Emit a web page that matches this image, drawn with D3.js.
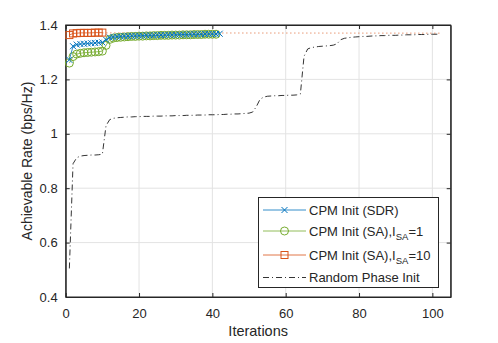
<!DOCTYPE html>
<html>
<head>
<meta charset="utf-8">
<script src="https://cdn.jsdelivr.net/npm/d3@7"></script>
<style>
  body { margin: 0; background: #fff; }
  svg text { font-family: "Liberation Sans", Arial, Helvetica, sans-serif; fill: #262626; }
</style>
</head>
<body>
<div id="chart"></div>
<script>
// rate per iteration for each initialisation
const sdrRate = [1.272, 1.322, 1.328, 1.330, 1.331, 1.332, 1.333, 1.334, 1.335, 1.336,
    1.346, 1.354, 1.356, 1.357, 1.358, 1.359, 1.359, 1.360, 1.360, 1.361,
    1.361, 1.362, 1.362, 1.362, 1.363, 1.363, 1.363, 1.364, 1.364, 1.364,
    1.365, 1.365, 1.365, 1.366, 1.366, 1.366, 1.366, 1.367, 1.367, 1.367,
    1.367, 1.368];

const sa1Rate = [1.260, 1.284, 1.293, 1.296, 1.298, 1.299, 1.300, 1.301, 1.302, 1.304,
    1.325, 1.347, 1.352, 1.354, 1.355, 1.356, 1.357, 1.358, 1.358, 1.359,
    1.359, 1.360, 1.360, 1.361, 1.361, 1.362, 1.362, 1.362, 1.363, 1.363,
    1.363, 1.364, 1.364, 1.364, 1.365, 1.365, 1.365, 1.366, 1.366, 1.366,
    1.366];

const sa10Rate = [1.363, 1.369, 1.370, 1.371, 1.371, 1.371, 1.371, 1.372, 1.372, 1.372];

// dotted continuation of the I_SA=10 curve
const sa10TailIter = [10, 102];
const sa10TailRate = [1.371, 1.370];

const randRate = [0.505, 0.890, 0.912, 0.918, 0.920, 0.921, 0.922, 0.922, 0.923, 0.925,
    1.030, 1.052, 1.057, 1.059, 1.060, 1.061, 1.062, 1.062, 1.063, 1.063,
    1.064, 1.064, 1.064, 1.065, 1.065, 1.065, 1.066, 1.066, 1.066, 1.067,
    1.067, 1.067, 1.068, 1.068, 1.068, 1.069, 1.069, 1.069, 1.070, 1.070,
    1.070, 1.071, 1.071, 1.072, 1.072, 1.073, 1.073, 1.074, 1.075, 1.076,
    1.080, 1.100, 1.127, 1.135, 1.138, 1.139, 1.140, 1.140, 1.141, 1.141,
    1.142, 1.142, 1.143, 1.146, 1.285, 1.312, 1.317, 1.319, 1.321, 1.322,
    1.323, 1.324, 1.326, 1.331, 1.346, 1.351, 1.353, 1.355, 1.356, 1.357,
    1.358, 1.358, 1.359, 1.360, 1.360, 1.361, 1.361, 1.362, 1.362, 1.362,
    1.363, 1.363, 1.364, 1.364, 1.364, 1.365, 1.365, 1.365, 1.366, 1.366,
    1.366, 1.367];

const xTicks = [0, 20, 40, 60, 80, 100];
const yTicks = [0.4, 0.6, 0.8, 1, 1.2, 1.4];

const legendNames = ["CPM Init (SDR)", "CPM Init (SA),I", "CPM Init (SA),I", "Random Phase Init"];
const legendSubs = ["", "SA", "SA", ""];
const legendTails = ["", "=1", "=10", ""];

const blue = "#0072BD", green = "#77AC30", orange = "#D95319", axisCol = "#262626";

var width = 498, height = 343;
const margins = {top: 25, bottom: 46, left: 65.7, right: 47.3};

var svg = d3.select('#chart')
    .append('svg')
    .attr('width', width)
    .attr('height', height);

var x_scale = d3.scaleLinear()
    .domain([0, 105])
    .range([margins.left, width - margins.right]);

var y_scale = d3.scaleLinear()
    .domain([0.4, 1.4])
    .range([height - margins.bottom, margins.top]);

const x0 = x_scale.range()[0], x1 = x_scale.range()[1];
const yb = y_scale.range()[0], yt = y_scale.range()[1];

// grid
svg.append('g').selectAll('line.gx')
    .data(xTicks.slice(1))
    .enter().append('line')
    .attr('x1', d => x_scale(d)).attr('x2', d => x_scale(d))
    .attr('y1', yb).attr('y2', yt)
    .attr('stroke', '#e3e3e3').attr('stroke-width', 1);

svg.append('g').selectAll('line.gy')
    .data(yTicks.slice(1))
    .enter().append('line')
    .attr('x1', x0).attr('x2', x1)
    .attr('y1', d => y_scale(d)).attr('y2', d => y_scale(d))
    .attr('stroke', '#e3e3e3').attr('stroke-width', 1);

// axes (ticks inside, like matlab)
let x_axis = d3.axisBottom(x_scale).tickValues(xTicks).tickSizeInner(-4).tickSizeOuter(0).tickPadding(12);
let y_axis = d3.axisLeft(y_scale).tickValues(yTicks).tickSizeInner(-4).tickSizeOuter(0).tickPadding(8)
    .tickFormat(d3.format('~g'));

svg.append('g')
    .attr('transform', 'translate(0,' + yb + ')')
    .call(x_axis);
svg.append('g')
    .attr('transform', 'translate(' + x0 + ',0)')
    .call(y_axis);

// top and right ticks
svg.append('g')
    .attr('transform', 'translate(0,' + yt + ')')
    .call(d3.axisTop(x_scale).tickValues(xTicks).tickSizeInner(-4).tickSizeOuter(0).tickFormat(''));
svg.append('g')
    .attr('transform', 'translate(' + x1 + ',0)')
    .call(d3.axisRight(y_scale).tickValues(yTicks).tickSizeInner(-4).tickSizeOuter(0).tickFormat(''));

svg.selectAll('.domain, .tick line').attr('stroke', axisCol);
svg.selectAll('.tick text').attr('font-size', '13px').attr('fill', axisCol)
    .style('font-family', '"Liberation Sans", Arial, sans-serif');

// box
svg.append('rect')
    .attr('x', x0).attr('y', yt)
    .attr('width', x1 - x0).attr('height', yb - yt)
    .attr('fill', 'none').attr('stroke', axisCol).attr('stroke-width', 1);

// axis labels
svg.append('text')
    .attr('x', (x0 + x1) / 2)
    .attr('y', 336)
    .attr('text-anchor', 'middle')
    .attr('font-size', '14.5px')
    .text('Iterations');

svg.append('text')
    .attr('transform', 'rotate(-90)')
    .attr('x', -(yt + yb) / 2)
    .attr('y', 32)
    .attr('text-anchor', 'middle')
    .attr('font-size', '14px')
    .text('Achievable Rate (bps/Hz)');

var line = d3.line()
    .x(d => x_scale(d[0]))
    .y(d => y_scale(d[1]));

const pts = arr => arr.map((v, i) => [i + 1, v]);

// random phase
svg.append('path')
    .datum(pts(randRate))
    .attr('d', line)
    .attr('fill', 'none')
    .attr('stroke', '#000')
    .attr('stroke-width', 0.8)
    .attr('stroke-dasharray', '6,3,1,3');

// SA I=10 dotted tail
svg.append('path')
    .datum(sa10TailIter.map((d, i) => [d, sa10TailRate[i]]))
    .attr('d', line)
    .attr('fill', 'none')
    .attr('stroke', orange)
    .attr('stroke-width', 0.9)
    .attr('stroke-dasharray', '1,3');

function circleMarks(g, data, col) {
    g.selectAll('circle').data(data).enter().append('circle')
        .attr('cx', d => x_scale(d[0])).attr('cy', d => y_scale(d[1]))
        .attr('r', 4).attr('fill', 'none').attr('stroke', col).attr('stroke-width', 1);
}
function crossMarks(g, data, col) {
    g.selectAll('path.m').data(data).enter().append('path')
        .attr('d', d => {
            let x = x_scale(d[0]), y = y_scale(d[1]), s = 3;
            return 'M' + (x - s) + ',' + (y - s) + 'L' + (x + s) + ',' + (y + s) +
                'M' + (x - s) + ',' + (y + s) + 'L' + (x + s) + ',' + (y - s);
        })
        .attr('stroke', col).attr('stroke-width', 1);
}
function squareMarks(g, data, col) {
    g.selectAll('rect').data(data).enter().append('rect')
        .attr('x', d => x_scale(d[0]) - 3.5).attr('y', d => y_scale(d[1]) - 3.5)
        .attr('width', 7).attr('height', 7)
        .attr('fill', 'none').attr('stroke', col).attr('stroke-width', 1);
}

// SA I=1
let gGreen = svg.append('g');
gGreen.append('path').datum(pts(sa1Rate)).attr('d', line)
    .attr('fill', 'none').attr('stroke', green).attr('stroke-width', 0.8);
circleMarks(gGreen, pts(sa1Rate), green);

// SDR
let gBlue = svg.append('g');
gBlue.append('path').datum(pts(sdrRate)).attr('d', line)
    .attr('fill', 'none').attr('stroke', blue).attr('stroke-width', 0.8);
crossMarks(gBlue, pts(sdrRate), blue);

// SA I=10
let gOrange = svg.append('g');
gOrange.append('path').datum(pts(sa10Rate)).attr('d', line)
    .attr('fill', 'none').attr('stroke', orange).attr('stroke-width', 0.8);
squareMarks(gOrange, pts(sa10Rate), orange);

// legend
let lg = svg.append('g');
lg.append('rect')
    .attr('x', 258.5).attr('y', 197.5).attr('width', 180).attr('height', 90)
    .attr('fill', '#fff').attr('stroke', axisCol).attr('stroke-width', 1);

const legendY = [210, 231, 255, 277.5];
const legendCols = [blue, green, orange, '#000'];

legendNames.forEach(function (name, i) {
    let y = legendY[i];
    let l = lg.append('line')
        .attr('x1', 263).attr('x2', 306).attr('y1', y).attr('y2', y)
        .attr('stroke', legendCols[i]).attr('stroke-width', 0.8);
    if (i === 3) l.attr('stroke-dasharray', '6,3,1,3');
    let mg = lg.append('g');
    if (i === 0) crossMarks(mg, [[x_scale.invert(284.5), y_scale.invert(y)]], blue);
    if (i === 1) circleMarks(mg, [[x_scale.invert(284.5), y_scale.invert(y)]], green);
    if (i === 2) squareMarks(mg, [[x_scale.invert(284.5), y_scale.invert(y)]], orange);

    let t = lg.append('text')
        .attr('x', 309).attr('y', y + 4.5)
        .attr('font-size', '13px');
    t.append('tspan').text(name);
    if (legendSubs[i]) {
        t.append('tspan').attr('dy', 4).attr('font-size', '9.5px').text(legendSubs[i]);
        t.append('tspan').attr('dy', -4).text(legendTails[i]);
    }
});
</script>
</body>
</html>
